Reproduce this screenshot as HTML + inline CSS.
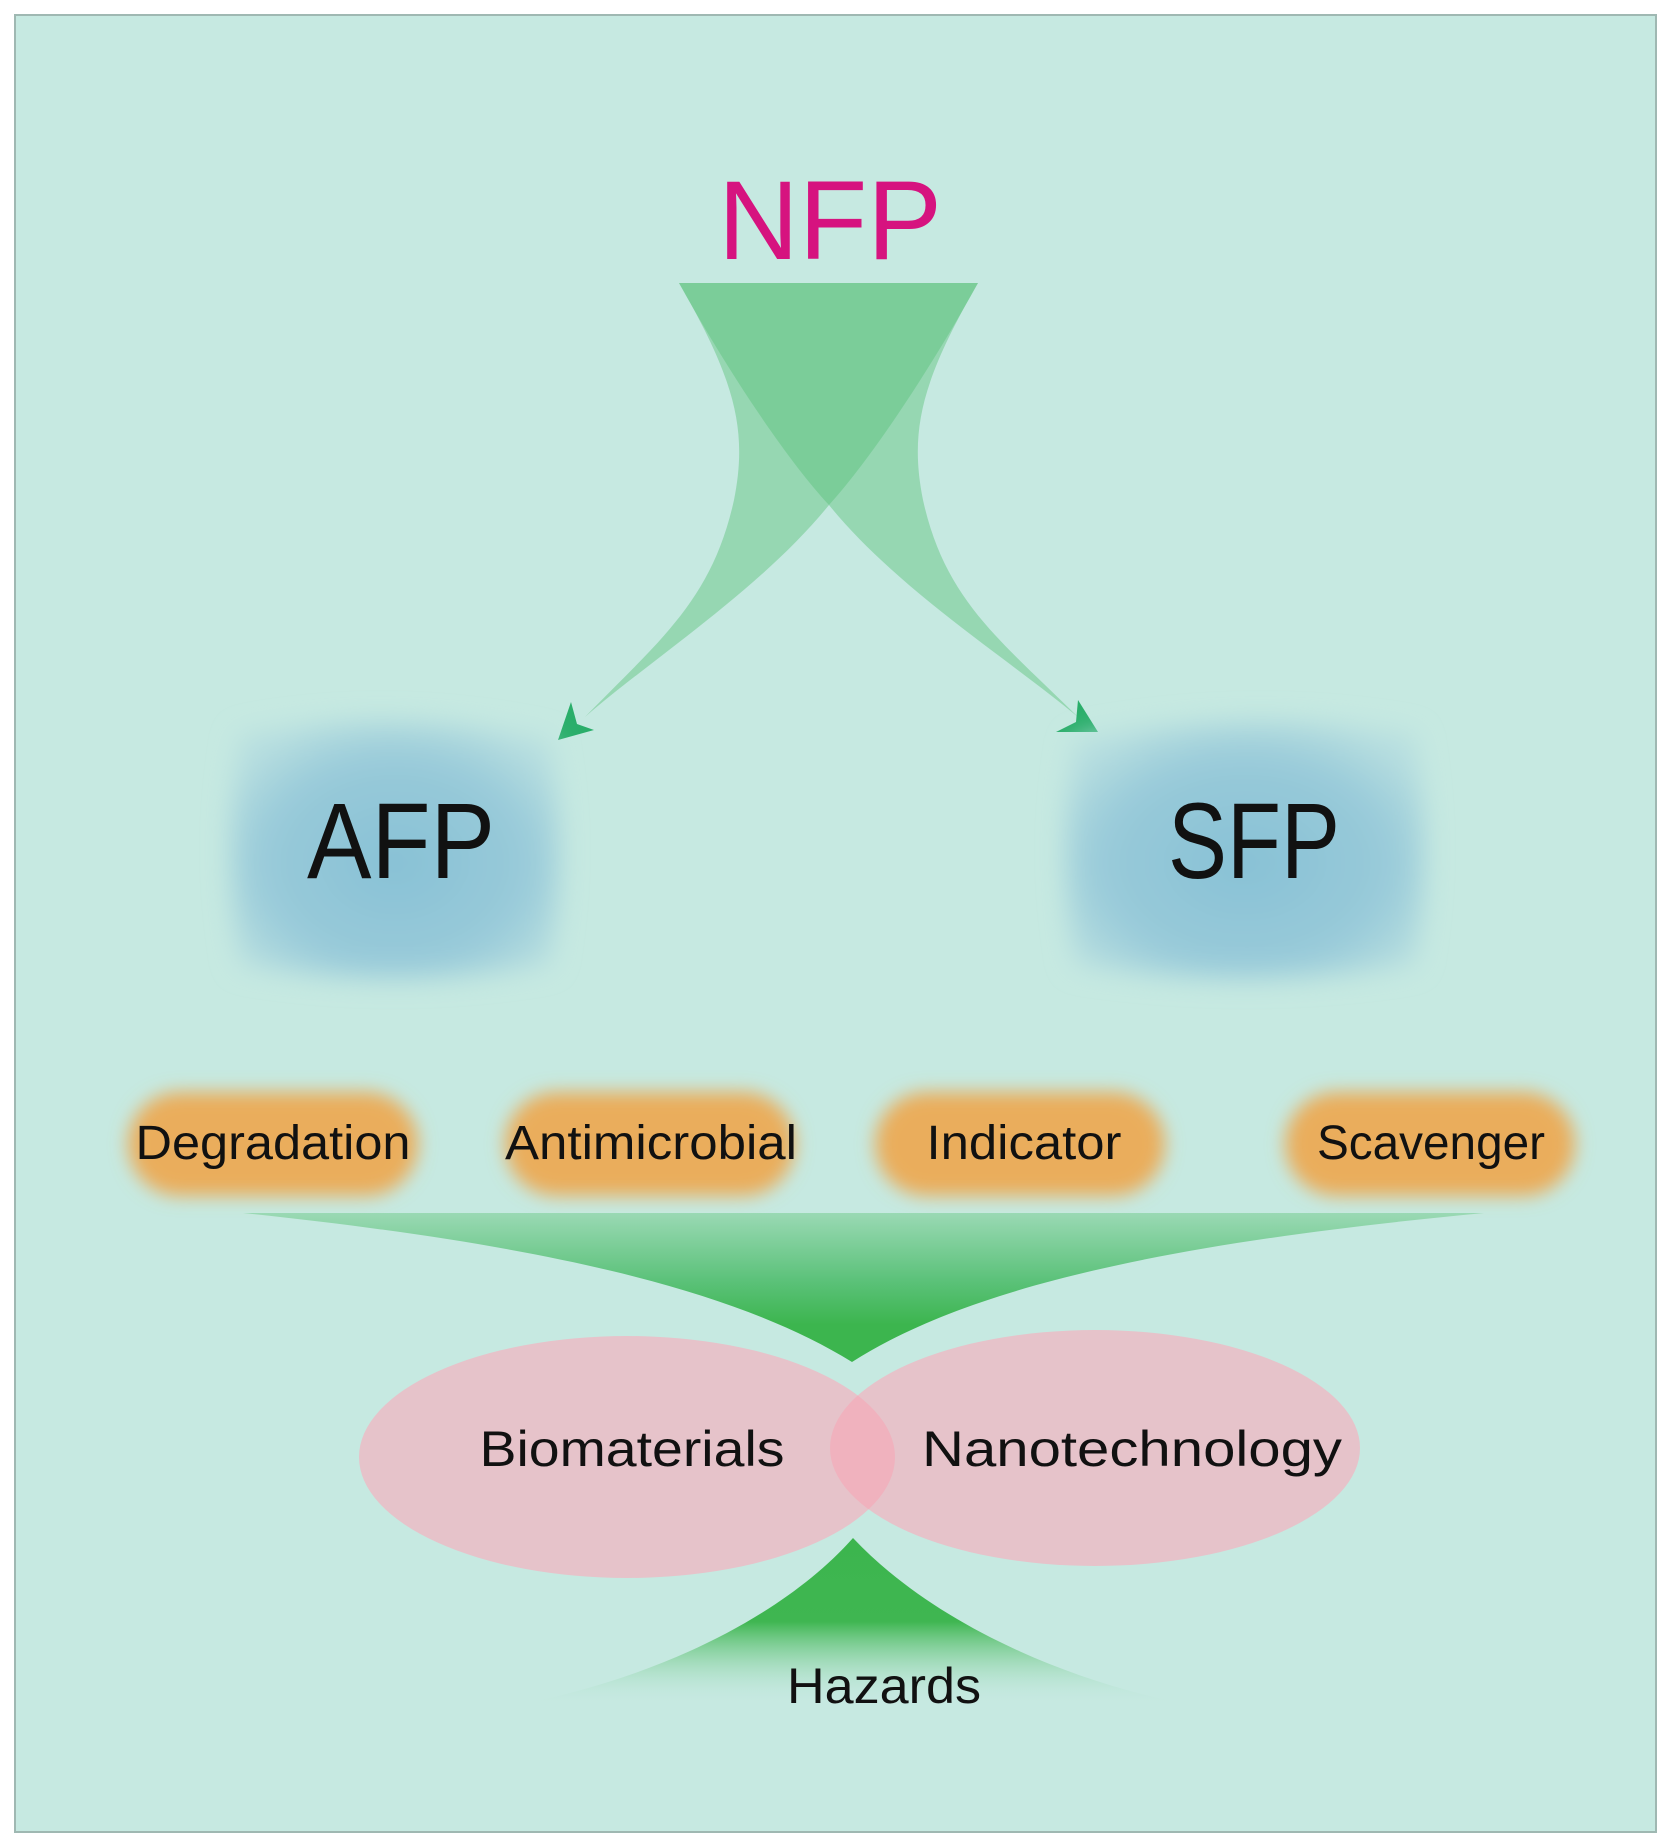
<!DOCTYPE html>
<html><head><meta charset="utf-8">
<style>
html,body{margin:0;padding:0;background:#fff;}
svg{display:block;}
text{font-family:"Liberation Sans",sans-serif;}
</style></head>
<body>
<svg width="1672" height="1845" viewBox="0 0 1672 1845" xmlns="http://www.w3.org/2000/svg">
<defs>
  <filter id="blur1" x="-30%" y="-30%" width="160%" height="160%"><feGaussianBlur stdDeviation="13"/></filter>
  <filter id="blur2" x="-30%" y="-40%" width="160%" height="180%"><feGaussianBlur stdDeviation="9"/></filter>
  <linearGradient id="fun1" x1="0" y1="1213" x2="0" y2="1362" gradientUnits="userSpaceOnUse">
    <stop offset="0" stop-color="#9ad9b4"/>
    <stop offset="0.45" stop-color="#5cc27a"/>
    <stop offset="0.75" stop-color="#3cb54e"/>
    <stop offset="1" stop-color="#3cb54e"/>
  </linearGradient>
  <linearGradient id="fun2" x1="0" y1="1538" x2="0" y2="1705" gradientUnits="userSpaceOnUse">
    <stop offset="0" stop-color="#3cb54e"/>
    <stop offset="0.5" stop-color="#3fb651"/>
    <stop offset="1" stop-color="#c6e9e1" stop-opacity="0"/>
  </linearGradient>
  <radialGradient id="blue" cx="0.5" cy="0.55" r="0.6">
    <stop offset="0" stop-color="#88c1d6"/>
    <stop offset="0.65" stop-color="#98cad9"/>
    <stop offset="1" stop-color="#b8dfe0"/>
  </radialGradient>
  <clipPath id="lclip"><ellipse cx="627" cy="1457" rx="268" ry="121"/></clipPath>
</defs>
<rect x="0" y="0" width="1672" height="1845" fill="#fff"/>
<rect x="15" y="15" width="1641" height="1817" fill="#c6e9e1" stroke="#9fb8b2" stroke-width="2"/>

<!-- NFP -->
<text x="830" y="259" font-size="112" fill="#d6137f" text-anchor="middle">NFP</text>

<!-- swooshes -->
<path d="M978,283 C930,370 870,460 829,505 C760,590 650,660 585,717 C660,640 712,600 734,500 C748,430 735,380 679,283 Z" fill="#5cc27a" fill-opacity="0.45"/>
<path d="M679,283 C727,370 787,460 829,505 C898,590 1010,660 1078,717 C1000,640 945,600 923,500 C909,430 922,380 978,283 Z" fill="#5cc27a" fill-opacity="0.45"/>
<polygon points="571,702 558,740 594,730 577,724" fill="#2aae6a"/>
<polygon points="1078,700 1098,732 1056,732 1076,722" fill="#2aae6a"/>

<!-- blue blobs -->
<g filter="url(#blur1)">
  <path d="M240,735 Q390,705 550,740 Q570,850 550,965 Q390,992 240,965 Q220,850 240,735 Z" fill="url(#blue)"/>
  <path d="M1075,740 Q1250,705 1415,735 Q1435,850 1415,965 Q1250,992 1075,965 Q1055,850 1075,740 Z" fill="url(#blue)"/>
</g>
<text x="401" y="878" font-size="108" fill="#111" text-anchor="middle" textLength="188" lengthAdjust="spacingAndGlyphs">AFP</text>
<text x="1254" y="878" font-size="108" fill="#111" text-anchor="middle" textLength="172" lengthAdjust="spacingAndGlyphs">SFP</text>

<!-- orange pills -->
<g filter="url(#blur2)" fill="#eaad5b">
  <rect x="128" y="1092" width="290" height="104" rx="52"/>
  <rect x="505" y="1092" width="290" height="104" rx="52"/>
  <rect x="875" y="1092" width="290" height="104" rx="52"/>
  <rect x="1285" y="1092" width="290" height="104" rx="52"/>
</g>
<g font-size="48" fill="#111" text-anchor="middle">
  <text x="273" y="1159" textLength="275" lengthAdjust="spacingAndGlyphs">Degradation</text>
  <text x="651" y="1159" textLength="292" lengthAdjust="spacingAndGlyphs">Antimicrobial</text>
  <text x="1024" y="1159" textLength="195" lengthAdjust="spacingAndGlyphs">Indicator</text>
  <text x="1431" y="1159" textLength="228" lengthAdjust="spacingAndGlyphs">Scavenger</text>
</g>

<!-- lower funnel -->
<path d="M243,1213 L1484,1213 C1200,1240 980,1280 852,1362 C720,1280 500,1240 243,1213 Z" fill="url(#fun1)"/>

<!-- ellipses -->
<ellipse cx="627" cy="1457" rx="268" ry="121" fill="#e6c3ca"/>
<ellipse cx="1095" cy="1448" rx="265" ry="118" fill="#e6c3ca"/>
<ellipse cx="1095" cy="1448" rx="265" ry="118" fill="#f0b2be" clip-path="url(#lclip)"/>
<text x="632" y="1466" font-size="50" fill="#111" text-anchor="middle" textLength="305" lengthAdjust="spacingAndGlyphs">Biomaterials</text>
<text x="1132" y="1466" font-size="50" fill="#111" text-anchor="middle" textLength="420" lengthAdjust="spacingAndGlyphs">Nanotechnology</text>

<!-- bottom funnel -->
<path d="M853,1538 C930,1620 1060,1680 1190,1705 L516,1705 C650,1680 780,1620 853,1538 Z" fill="url(#fun2)"/>
<text x="884" y="1703" font-size="50" fill="#111" text-anchor="middle" textLength="194" lengthAdjust="spacingAndGlyphs">Hazards</text>
</svg>
</body></html>
